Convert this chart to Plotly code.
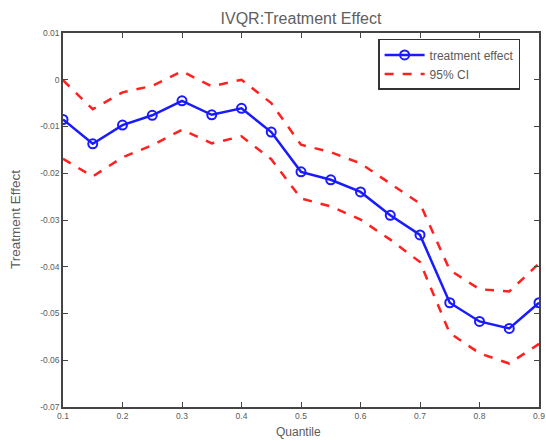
import plotly.graph_objects as go

quantiles = [0.1, 0.15, 0.2, 0.25, 0.3, 0.35, 0.4, 0.45, 0.5, 0.55, 0.6, 0.65, 0.7, 0.75, 0.8, 0.85, 0.9]
effect = [-0.0085, -0.0137, -0.0097, -0.0076, -0.0045, -0.0075, -0.0061, -0.0112, -0.0197, -0.0214, -0.0240, -0.0290, -0.0332, -0.0477, -0.0517, -0.0532, -0.0477]
ci_upper = [-0.0001, -0.0063, -0.0027, -0.0013, 0.0018, -0.0014, 0.0000, -0.0050, -0.0139, -0.0155, -0.0179, -0.0222, -0.0265, -0.0407, -0.0448, -0.0453, -0.0393]
ci_lower = [-0.0169, -0.0207, -0.0166, -0.0140, -0.0107, -0.0136, -0.0121, -0.0170, -0.0254, -0.0271, -0.0299, -0.0342, -0.0390, -0.0542, -0.0585, -0.0607, -0.0565]

x_ticks = [0.1, 0.2, 0.3, 0.4, 0.5, 0.6, 0.7, 0.8, 0.9]
y_ticks = [0.01, 0, -0.01, -0.02, -0.03, -0.04, -0.05, -0.06, -0.07]
y_labels = ["0.01", "0", "-0.01", "-0.02", "-0.03", "-0.04", "-0.05", "-0.06", "-0.07"]

FONT = "Liberation Sans, Arial"
GREY = "#5a5a5a"

fig = go.Figure()
fig.add_trace(go.Scatter(
    x=quantiles, y=effect, mode="lines+markers", name="treatment effect",
    line=dict(color="#1a1aff", width=2.5),
    marker=dict(symbol="circle-open", size=9, color="#1a1aff", line=dict(width=2)),
))
fig.add_trace(go.Scatter(
    x=quantiles, y=ci_upper, mode="lines", name="95% CI",
    line=dict(color="#ff2020", width=2.5, dash="dash"),
))
fig.add_trace(go.Scatter(
    x=quantiles, y=ci_lower, mode="lines", name="95% CI", showlegend=False,
    line=dict(color="#ff2020", width=2.5, dash="dash"),
))

axis_common = dict(
    showgrid=False, zeroline=False, showline=True, linecolor="#444444", linewidth=1.5,
    mirror="ticks", ticks="inside", ticklen=5, tickcolor="#444444", automargin=False,
    tickfont=dict(family=FONT, size=8.5, color=GREY),
)

fig.update_layout(
    width=546, height=441,
    margin=dict(l=63, r=7, t=33, b=34),
    paper_bgcolor="white", plot_bgcolor="white",
    title=dict(text="IVQR:Treatment Effect", x=(63 + 476 / 2) / 546, xanchor="center",
               y=1 - 18 / 441, yanchor="middle",
               font=dict(family=FONT, size=16, color="#606060")),
    xaxis=dict(range=[0.1, 0.9], tickvals=x_ticks, ticktext=[str(v) for v in x_ticks],
               **axis_common),
    yaxis=dict(range=[-0.07, 0.01], tickvals=y_ticks, ticktext=y_labels,
               **axis_common),
    legend=dict(x=0.662, y=0.984, xanchor="left", yanchor="top",
                bgcolor="white", bordercolor="#333333", borderwidth=1.5,
                font=dict(family=FONT, size=12, color=GREY),
                tracegroupgap=0, itemwidth=40),
    showlegend=True,
    annotations=[
        dict(text="Quantile", xref="paper", yref="paper", x=0.495, y=-(432 - 407) / 374,
             xanchor="center", yanchor="middle", showarrow=False,
             font=dict(family=FONT, size=12, color=GREY)),
        dict(text="Treatment Effect", xref="paper", yref="paper", x=-(63 - 15) / 476, y=0.5,
             xanchor="center", yanchor="middle", textangle=-90, showarrow=False,
             font=dict(family=FONT, size=13.5, color=GREY)),
    ],
)

fig.write_html("out.html", config={"displayModeBar": False},
               post_script="document.body.style.margin='0';")
